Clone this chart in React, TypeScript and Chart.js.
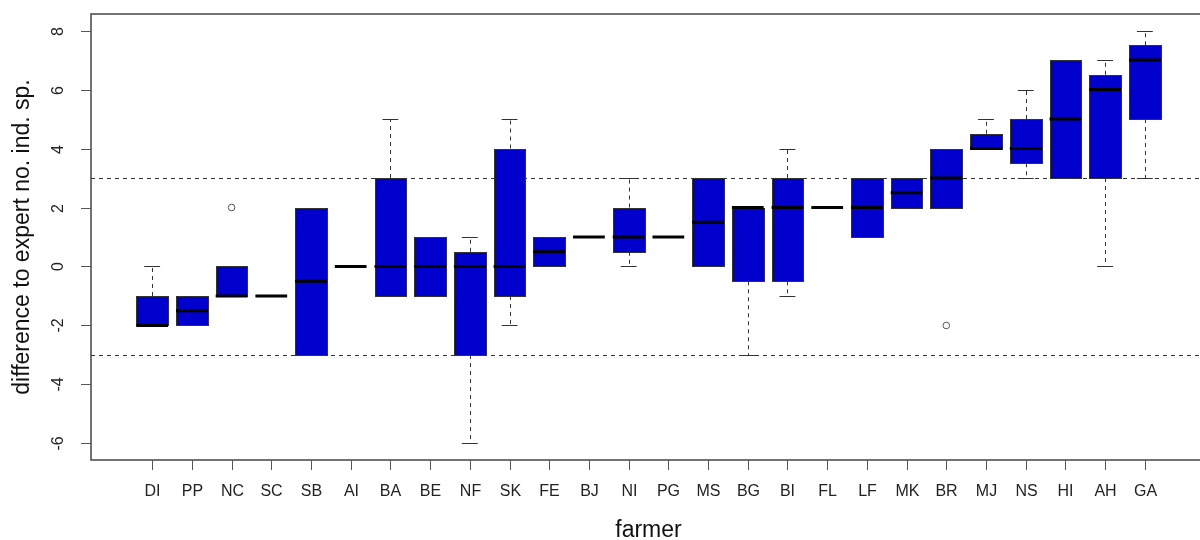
import React, { useEffect, useRef } from "react";
import { Chart, registerables } from "chart.js";

Chart.register(...registerables);

// Farmers in plotting order
const farmers = [
  "DI", "PP", "NC", "SC", "SB", "AI", "BA", "BE", "NF", "SK", "FE", "BJ", "NI",
  "PG", "MS", "BG", "BI", "FL", "LF", "MK", "BR", "MJ", "NS", "HI", "AH", "GA",
];

// Five-number summaries per farmer
const whiskerLow = [-2, -2, -1, -1, -3, 0, -1, -1, -6, -2, 0, 1, 0, 1, 0, -3, -1, 2, 1, 2, 2, 4, 3, 3, 0, 3];
const boxLow = [-2, -2, -1, -1, -3, 0, -1, -1, -3, -1, 0, 1, 0.5, 1, 0, -0.5, -0.5, 2, 1, 2, 2, 4, 3.5, 3, 3, 5];
const medians = [-2, -1.5, -1, -1, -0.5, 0, 0, 0, 0, 0, 0.5, 1, 1, 1, 1.5, 2, 2, 2, 2, 2.5, 3, 4, 4, 5, 6, 7];
const boxHigh = [-1, -1, 0, -1, 2, 0, 3, 1, 0.5, 4, 1, 1, 2, 1, 3, 2, 3, 2, 3, 3, 4, 4.5, 5, 7, 6.5, 7.5];
const whiskerHigh = [0, -1, 0, -1, 2, 0, 5, 1, 1, 5, 1, 1, 3, 1, 3, 2, 4, 2, 3, 3, 4, 5, 6, 7, 7, 8];

// Points beyond the whiskers
const outlierFarmers = ["NC", "BR"];
const outlierValues = [2, -2];

// Axis ticks and reference lines
const yTicks = [-6, -4, -2, 0, 2, 4, 6, 8];
const refLines = [-3, 3];

const X_TITLE = "farmer";
const Y_TITLE = "difference to expert no. ind. sp.";

const BOX_FILL = "#0000CD";
const INK = "#333333";
const FONT = '"Liberation Sans", Arial, sans-serif';

const boxplotPlugin = {
  id: "rBoxplot",
  beforeDatasetsDraw(chart: any) {
    const { ctx, chartArea, scales } = chart;
    const xs = scales.x;
    const ys = scales.y;
    const halfBox = xs.getPixelForValue(0.4) - xs.getPixelForValue(0);
    const halfStaple = xs.getPixelForValue(0.2) - xs.getPixelForValue(0);

    ctx.save();
    // dashed reference lines
    ctx.strokeStyle = INK;
    ctx.lineWidth = 1;
    ctx.setLineDash([4, 4]);
    refLines.forEach((v) => {
      const y = Math.round(ys.getPixelForValue(v)) + 0.5;
      ctx.beginPath();
      ctx.moveTo(chartArea.left, y);
      ctx.lineTo(chartArea.right, y);
      ctx.stroke();
    });

    farmers.forEach((_, i) => {
      const cx = xs.getPixelForValue(i + 1);
      const yq1 = ys.getPixelForValue(boxLow[i]);
      const yq3 = ys.getPixelForValue(boxHigh[i]);
      const ymed = ys.getPixelForValue(medians[i]);
      const ylo = ys.getPixelForValue(whiskerLow[i]);
      const yhi = ys.getPixelForValue(whiskerHigh[i]);

      // whiskers
      ctx.strokeStyle = INK;
      ctx.lineWidth = 1;
      ctx.setLineDash([4, 4]);
      const wx = Math.round(cx) + 0.5;
      if (whiskerHigh[i] > boxHigh[i]) {
        ctx.beginPath();
        ctx.moveTo(wx, yq3);
        ctx.lineTo(wx, yhi);
        ctx.stroke();
      }
      if (whiskerLow[i] < boxLow[i]) {
        ctx.beginPath();
        ctx.moveTo(wx, yq1);
        ctx.lineTo(wx, ylo);
        ctx.stroke();
      }
      ctx.setLineDash([]);
      // staples
      [yhi, ylo].forEach((yy, k) => {
        const differs = k === 0 ? whiskerHigh[i] > boxHigh[i] : whiskerLow[i] < boxLow[i];
        if (!differs) return;
        const y = Math.round(yy) + 0.5;
        ctx.beginPath();
        ctx.moveTo(cx - halfStaple, y);
        ctx.lineTo(cx + halfStaple, y);
        ctx.stroke();
      });

      // box
      if (boxHigh[i] > boxLow[i]) {
        const left = Math.round(cx - halfBox) + 0.5;
        const right = Math.round(cx + halfBox) + 0.5;
        const top = Math.round(yq3) + 0.5;
        const bottom = Math.round(yq1) + 0.5;
        ctx.fillStyle = BOX_FILL;
        ctx.fillRect(left, top, right - left, bottom - top);
        ctx.strokeStyle = INK;
        ctx.lineWidth = 1;
        ctx.strokeRect(left, top, right - left, bottom - top);
      }

      // median
      ctx.strokeStyle = "#000000";
      ctx.lineWidth = 3;
      ctx.beginPath();
      ctx.moveTo(cx - halfBox, ymed);
      ctx.lineTo(cx + halfBox, ymed);
      ctx.stroke();
    });
    ctx.restore();
  },
  afterDraw(chart: any) {
    const { ctx, chartArea, scales } = chart;
    const xs = scales.x;
    const ys = scales.y;
    const { left, right, top, bottom } = chartArea;
    ctx.save();

    // plot frame
    ctx.strokeStyle = "#444444";
    ctx.lineWidth = 1.5;
    ctx.setLineDash([]);
    ctx.strokeRect(left, top, right - left, bottom - top);

    // y axis ticks and rotated labels
    ctx.lineWidth = 1;
    ctx.strokeStyle = "#555555";
    ctx.fillStyle = "#222222";
    ctx.font = `16px ${FONT}`;
    ctx.textAlign = "center";
    ctx.textBaseline = "middle";
    yTicks.forEach((v) => {
      const y = Math.round(ys.getPixelForValue(v)) + 0.5;
      ctx.beginPath();
      ctx.moveTo(left, y);
      ctx.lineTo(left - 10, y);
      ctx.stroke();
      ctx.save();
      ctx.translate(left - 33, y);
      ctx.rotate(-Math.PI / 2);
      ctx.fillText(String(v), 0, 1);
      ctx.restore();
    });

    // x axis ticks and labels
    ctx.font = `16px ${FONT}`;
    farmers.forEach((name, i) => {
      const x = Math.round(xs.getPixelForValue(i + 1)) + 0.5;
      ctx.beginPath();
      ctx.moveTo(x, bottom);
      ctx.lineTo(x, bottom + 10);
      ctx.stroke();
      ctx.fillText(name, x, bottom + 32);
    });

    // axis titles
    ctx.font = `23px ${FONT}`;
    ctx.fillStyle = "#111111";
    ctx.fillText(X_TITLE, (left + right) / 2, bottom + 71);
    ctx.save();
    ctx.translate(left - 68, (top + bottom) / 2);
    ctx.rotate(-Math.PI / 2);
    ctx.fillText(Y_TITLE, 0, 0);
    ctx.restore();

    ctx.restore();
  },
};

export default function App() {
  const canvasRef = useRef<HTMLCanvasElement | null>(null);

  useEffect(() => {
    const canvas = canvasRef.current;
    if (!canvas) return;
    const outlierPoints = outlierFarmers.map((f, k) => ({
      x: farmers.indexOf(f) + 1,
      y: outlierValues[k],
    }));
    const chart = new Chart(canvas, {
      type: "scatter",
      data: {
        datasets: [
          {
            label: "outliers",
            data: outlierPoints,
            pointStyle: "circle",
            pointRadius: 3.3,
            borderColor: "#555555",
            backgroundColor: "rgba(0,0,0,0)",
            borderWidth: 1,
          },
        ],
      },
      plugins: [boxplotPlugin],
      options: {
        responsive: false,
        animation: false,
        devicePixelRatio: 1,
        layout: { padding: { left: 91, top: 14, right: 14, bottom: 80 } },
        scales: {
          x: { type: "linear", min: -0.54, max: 27.54, display: false },
          y: { type: "linear", min: -6.56, max: 8.56, display: false },
        },
        plugins: {
          legend: { display: false },
          tooltip: { enabled: false },
          title: { display: false },
        },
      },
    });
    return () => chart.destroy();
  }, []);

  return (
    <div
      style={{
        position: "fixed",
        left: 0,
        top: 0,
        width: 1200,
        height: 540,
        overflow: "hidden",
        background: "#ffffff",
      }}
    >
      <canvas ref={canvasRef} width={1220} height={540} style={{ display: "block" }} />
    </div>
  );
}
